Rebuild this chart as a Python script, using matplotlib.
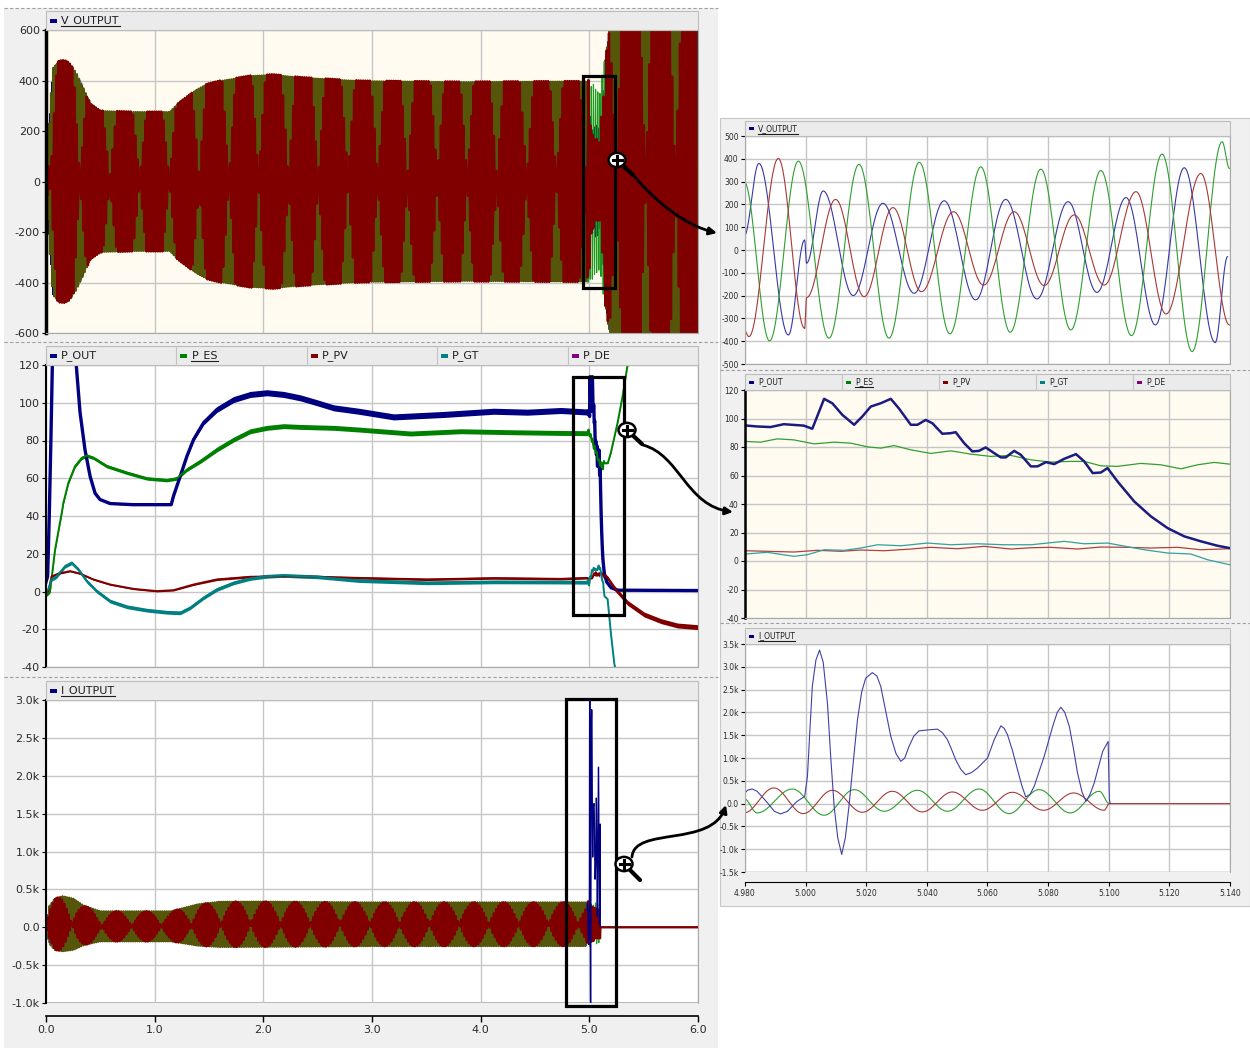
import numpy as np
import matplotlib
matplotlib.use("Agg")
import matplotlib.pyplot as plt
from matplotlib.patches import Rectangle, Circle, FancyArrowPatch
from matplotlib.path import Path
from matplotlib.lines import Line2D

# ---------------- full run, 0 - 6 s ----------------
# V_OUTPUT peak envelope
V_ENV_T = [0.0, 0.02, 0.04, 0.06, 0.12, 0.17, 0.21, 0.28, 0.35, 0.41, 0.50, 0.80, 1.14, 1.20,
           1.30, 1.39, 1.48, 1.60, 1.88, 2.09, 2.34, 2.65, 2.90, 3.80, 4.74, 4.98,
           5.14, 5.16, 5.20, 5.30, 6.0]
V_ENV_A = [0, 200, 320, 450, 479, 481, 472, 433, 367, 308, 281, 277, 277, 305,
           338, 367, 387, 400, 420, 425, 414, 406, 400, 396, 398, 398,
           470, 520, 650, 780, 800]

# I_OUTPUT peak envelope and offset
I_ENV_T = [0.0, 0.03, 0.08, 0.15, 0.25, 0.35, 0.50, 1.15, 1.25, 1.40, 1.60, 2.00, 3.00, 4.00, 4.98]
I_ENV_A = [0, 250, 340, 365, 340, 260, 200, 200, 230, 275, 300, 300, 290, 290, 290]
I_ENV_DC = [0, 30, 40, 46, 40, 25, 12, 12, 20, 30, 38, 40, 40, 40, 40]

# power traces before and after the 4.98 - 5.14 s window
P_OUT_T = [0.0, 0.015, 0.03, 0.045, 0.06, 0.10, 0.15, 0.22, 0.277, 0.313, 0.359, 0.406, 0.452,
           0.498, 0.59, 0.80, 1.152, 1.173, 1.235, 1.297, 1.358, 1.45, 1.573, 1.727, 1.88,
           2.034, 2.187, 2.34, 2.495, 2.648, 2.878, 3.20, 3.66, 4.12, 4.43, 4.737]
P_OUT_V = [5, 8, 40, 80, 125, 165, 180, 160, 121, 95, 75, 61, 52,
           48.7, 46.6, 46, 46, 50.5, 61, 71.7, 80.5, 89.4, 96.4, 101.7, 104.4,
           105.3, 104.4, 102.6, 100, 97.3, 95.5, 92.5, 93.8, 95.5, 95, 95.9]
P_OUT_POST_T = [5.16, 5.20, 5.26, 6.0]
P_OUT_POST_V = [5, 2, 0.7, 0.5]

P_ES_T = [0.0, 0.037, 0.083, 0.145, 0.16, 0.206, 0.267, 0.329, 0.375, 0.436, 0.559, 0.744,
          0.928, 1.112, 1.204, 1.297, 1.42, 1.573, 1.727, 1.88, 2.034, 2.187, 2.34, 2.65,
          2.88, 3.355, 3.816, 4.276, 4.737]
P_ES_V = [-2, 0, 22, 41.7, 47, 57.6, 66.4, 70.8, 72, 70.8, 66.4, 62.9,
          59.9, 59, 59.9, 64.6, 69, 75.2, 80.5, 84.9, 86.7, 87.6, 87.2, 86.7,
          85.8, 83.7, 84.9, 84.4, 84]
P_ES_POST_T = [5.17, 5.198, 5.26, 5.306, 5.352, 5.40]
P_ES_POST_V = [68, 73.5, 89.4, 103.5, 120, 138]

P_PV_T = [0.0, 0.02, 0.052, 0.114, 0.221, 0.313, 0.436, 0.59, 0.805, 1.02, 1.173, 1.358,
          1.573, 1.88, 2.187, 2.495, 2.88, 3.51, 4.12, 4.737]
P_PV_V = [0, 0, 8, 9.5, 10.8, 9.5, 6.4, 3.7, 1.4, 0.2, 0.7, 3.7,
          6.4, 7.8, 8.1, 7.8, 7.2, 6.4, 7.1, 6.7]
P_PV_POST_T = [5.168, 5.229, 5.352, 5.505, 5.66, 5.81, 6.0]
P_PV_POST_V = [7.2, 2, -6, -12.2, -15.7, -18, -18.9]

P_GT_T = [0.0, 0.02, 0.052, 0.098, 0.175, 0.236, 0.298, 0.375, 0.467, 0.59, 0.744, 0.928,
          1.112, 1.235, 1.327, 1.45, 1.573, 1.727, 1.88, 2.034, 2.187, 2.495, 2.88, 3.51,
          4.12, 4.737]
P_GT_V = [0, 1, 6.4, 8, 13.4, 15.2, 11.7, 5.5, 0.2, -5.1, -8.1, -9.9,
          -11, -11.3, -8.6, -3.3, 1.1, 4.6, 6.9, 8.1, 8.5, 7.8, 5.8, 4.6,
          5.1, 5]
P_GT_POST_T = [5.168, 5.198, 5.229, 5.25]
P_GT_POST_V = [-4, -21.9, -37.8, -45]

# ripple half-width of the power traces
RIP_T = [0.0, 1.15, 1.6, 5.0, 5.05, 5.2, 6.0]
P_OUT_RIP = [0.3, 0.3, 1.6, 1.6, 0.0, 0.0, 0.0]
P_ES_RIP = [0.9, 0.9, 1.3, 1.3, 0.3, 0.3, 0.3]
P_PV_RIP = [0.4, 0.4, 0.6, 0.6, 0.6, 1.3, 1.3]
P_GT_RIP = [1.0, 1.0, 1.0, 1.0, 0.3, 0.3, 0.3]

# ---------------- zoomed window, 4.98 - 5.14 s ----------------
# voltage phases, peaks and troughs
VA_T = [4.9797, 4.9846, 4.9943, 4.99967, 5.0003, 5.0058, 5.0157, 5.0255, 5.0358, 5.0457,
        5.0561, 5.0660, 5.0763, 5.0866, 5.0961, 5.1057, 5.1154, 5.1249, 5.1351, 5.1392]
VA_V = [60, 380, -373, 44, -58, 259, -200, 205, -190, 216,
        -219, 222, -215, 212, -186, 230, -329, 361, -406, -29]
VB_T = [4.9797, 4.9881, 4.9976, 5.0077, 5.0176, 5.0275, 5.0375, 5.0476, 5.0578, 5.0675,
        5.0776, 5.0875, 5.0974, 5.1075, 5.1176, 5.1275, 5.1374, 5.1398]
VB_V = [300, -399, 390, -387, 376, -387, 385, -368, 365, -361,
        355, -351, 349, -376, 421, -446, 475, 358]
VC_T = [4.9797, 4.9813, 4.9910, 4.99967, 5.0003, 5.0099, 5.0193, 5.0288, 5.0382, 5.0488,
        5.0587, 5.0688, 5.0787, 5.0886, 5.0985, 5.1090, 5.1189, 5.1304, 5.1398]
VC_V = [-351, -380, 402, -344, -209, 222, -205, 186, -183, 168,
        -154, 168, -156, 154, -154, 256, -281, 336, -329]

# power
RP_OUT_T = [4.9802, 4.9840, 4.9884, 4.9928, 4.9994, 5.0022, 5.0061, 5.0088, 5.0121, 5.0160,
            5.0187, 5.0215, 5.0248, 5.0281, 5.0308, 5.0347, 5.0369, 5.0396, 5.0418, 5.0451,
            5.0479, 5.0495, 5.0523, 5.0550, 5.0572, 5.0594, 5.0622, 5.0644, 5.0660, 5.0688,
            5.0710, 5.0743, 5.0765, 5.0793, 5.0820, 5.0853, 5.0892, 5.0919, 5.0947, 5.0974,
            5.0996, 5.1029, 5.1084, 5.1139, 5.1194, 5.1249, 5.1304, 5.1359, 5.1398]
RP_OUT_V = [95.1, 94.4, 94, 96, 95, 92.8, 113.8, 110.7, 102.6, 95.6,
            101.4, 108.4, 110.7, 113.8, 107, 95.6, 95.6, 99, 96.7, 89.3,
            89.7, 90.4, 82.7, 76.9, 77.3, 79.7, 75.7, 72.7, 72.7, 77.3,
            74.5, 66.4, 66.4, 69.4, 68, 71.7, 75, 69.9, 61.7, 62.1,
            65.2, 55.8, 41.8, 31.3, 23.1, 17.3, 13.8, 10.7, 9.1]
RP_ES_T = [4.9802, 4.9851, 4.9906, 4.9961, 5.0028, 5.0094, 5.0149, 5.0204, 5.0248, 5.0292,
           5.0347, 5.0413, 5.0479, 5.0545, 5.0611, 5.0677, 5.0743, 5.0809, 5.0875, 5.0919,
           5.0974, 5.1029, 5.1106, 5.1172, 5.1238, 5.1293, 5.1348, 5.1398]
RP_ES_V = [83.9, 83.4, 85.7, 85, 82.2, 83.4, 82.7, 80.1, 79.2, 81,
           78, 75.5, 77.3, 75, 73.4, 74.1, 71, 69.4, 69.9, 69.9,
           66.8, 66.4, 68.5, 67.5, 64.7, 67.5, 69.2, 68]
RP_PV_T = [4.9802, 4.9873, 4.9961, 5.0039, 5.0116, 5.0182, 5.0259, 5.0347, 5.0413, 5.0501,
           5.0589, 5.0677, 5.0743, 5.0809, 5.0897, 5.0974, 5.1062, 5.1139, 5.1227, 5.1304,
           5.1398]
RP_PV_V = [7.2, 6.8, 6.3, 7.5, 6.8, 7.7, 7.2, 8.4, 9.6, 8.6,
           10.3, 8.4, 9.3, 9.6, 8.4, 9.8, 9.6, 9.1, 9.6, 7.9, 8.6]
RP_GT_T = [4.9802, 4.9873, 4.9961, 5.0006, 5.0061, 5.0127, 5.0182, 5.0237, 5.0314, 5.0402,
           5.0479, 5.0567, 5.0655, 5.0743, 5.0853, 5.0919, 5.0996, 5.1073, 5.1117, 5.1194,
           5.1271, 5.1326, 5.1398]
RP_GT_V = [4.9, 6.1, 3.3, 4.4, 7.9, 7.5, 9.1, 11.4, 10.7, 12.6,
           11.4, 12.1, 11.4, 11.4, 13.8, 12.1, 12.6, 9.6, 7.9, 5.6,
           4.9, 0.9, -2.6]

# current phases
IA_T = [4.9797, 4.9810, 4.9824, 4.9840, 4.9870, 4.9897, 4.9917, 4.9940, 4.9970, 4.9997,
        5.0006, 5.0014, 5.0022, 5.0034, 5.0046, 5.0058, 5.0072, 5.0083, 5.0094, 5.0106,
        5.0119, 5.0131, 5.0143, 5.0157, 5.0171, 5.0185, 5.0198, 5.0220, 5.0235, 5.0248,
        5.0265, 5.0281, 5.0298, 5.0314, 5.0327, 5.0341, 5.0357, 5.0374, 5.0407, 5.0435,
        5.0452, 5.0468, 5.0482, 5.0495, 5.0512, 5.0528, 5.0547, 5.0567, 5.0600, 5.0622,
        5.0644, 5.0655, 5.0666, 5.0683, 5.0699, 5.0713, 5.0726, 5.0740, 5.0754, 5.0787,
        5.0815, 5.0830, 5.0842, 5.0855, 5.0870, 5.0885, 5.0897, 5.0912, 5.0925, 5.0938,
        5.0952, 5.0980, 5.0998, 5.1002, 5.1005]
IA_V = [219, 300, 320, 270, 50, -170, -226, -170, 40, 160,
        598, 1600, 2566, 3150, 3367, 3100, 2201, 1000, -58, -750,
        -1115, -750, -58, 900, 1837, 2450, 2748, 2872, 2800, 2566,
        2000, 1472, 1100, 926, 1000, 1254, 1480, 1596, 1618, 1633,
        1550, 1399, 1180, 962, 750, 634, 680, 780, 999, 1399,
        1706, 1650, 1509, 1150, 743, 400, 146, 200, 379, 1035,
        1691, 2000, 2114, 2000, 1691, 1150, 671, 250, 51, 200,
        452, 1144, 1363, 87, 0]
IB_T = [4.9797, 4.9840, 4.9956, 5.0061, 5.0160, 5.0259, 5.0369, 5.0468, 5.0572, 5.0671,
        5.0770, 5.0873, 5.0969, 5.1002]
IB_V = [109, -204, 320, -255, 306, -168, 292, -168, 320, -219,
        306, -204, 270, 0]
IC_T = [4.9797, 4.9895, 4.9992, 5.0088, 5.0187, 5.0286, 5.0385, 5.0484, 5.0583, 5.0682,
        5.0785, 5.0884, 5.0985, 5.1002, 5.14]
IC_V = [-204, 343, -219, 292, -190, 270, -182, 255, -146, 248,
        -146, 233, -146, 0, 0]

F_GRID = 50.0
BEAT = 0.274
V_RED_GAIN = 1.5   # how far the coarse red trace overdrives the envelope in V_OUTPUT

W, H = 1250, 1048
fig = plt.figure(figsize=(W / 100, H / 100), dpi=100, facecolor="white")


def fx(x):
    return x / W


def fy(y):
    return 1 - y / H


def px_axes(x0, y0, x1, y1):
    return fig.add_axes([fx(x0), fy(y1), (x1 - x0) / W, (y1 - y0) / H])


def halfcos(ts, vs, n=24):
    # smooth half-wave segments between successive peaks
    out_t, out_v = [], []
    for ta, va, tb, vb in zip(ts[:-1], vs[:-1], ts[1:], vs[1:]):
        s = np.linspace(0, 1, n, endpoint=False)
        out_t.append(ta + (tb - ta) * s)
        out_v.append(va + (vb - va) * (1 - np.cos(np.pi * s)) / 2)
    out_t.append([ts[-1]])
    out_v.append([vs[-1]])
    return np.concatenate(out_t), np.concatenate(out_v)


def sampled_times(t0, t1, t_pinch):
    # coarse sampling close to two points per cycle
    eps = 0.5 / (100 * BEAT - 1)
    dt = (0.5 + eps) / F_GRID
    n = np.arange(np.ceil((t0 - t_pinch) / dt), np.floor((t1 - t_pinch) / dt) + 1)
    return t_pinch + n * dt


def dense_times(t0, t1):
    return np.arange(t0, t1, 1 / (F_GRID * 24))


def style(ax, face, yticks, ylabels, fs, xt, lw_left=2.0):
    ax.set_facecolor(face)
    for s in ax.spines.values():
        s.set_color("#a8a8a8")
        s.set_linewidth(0.8)
    ax.spines["left"].set_color("black")
    ax.spines["left"].set_linewidth(lw_left)
    ax.set_yticks(yticks)
    ax.set_yticklabels(ylabels)
    ax.set_ylim(yticks[-1], yticks[0])
    ax.set_xticks(xt)
    ax.tick_params(axis="y", direction="out", length=3, width=0.8, labelsize=fs,
                   labelcolor="#2a2a2a", pad=1.5)
    ax.tick_params(axis="x", length=0, labelbottom=False)
    ax.grid(True, color="#c6c6c6", lw=1.0)
    ax.set_axisbelow(True)


# grey panel backgrounds
fig.add_artist(Rectangle((fx(4), fy(1048)), 714 / W, 1040 / H, transform=fig.transFigure,
                         facecolor="#f0f0f0", edgecolor="none", zorder=-10))
fig.add_artist(Rectangle((fx(720), fy(906)), 530 / W, 788 / H, transform=fig.transFigure,
                         facecolor="#f0f0f0", edgecolor="#c8c8c8", lw=0.8, zorder=-10))
for yy, x0, x1 in [(8, 4, 718), (342, 4, 718), (677, 4, 718), (370, 720, 1250), (623, 720, 1250)]:
    fig.add_artist(Line2D([fx(x0), fx(x1)], [fy(yy), fy(yy)], transform=fig.transFigure,
                          color="#a0a0a0", lw=0.8, ls=(0, (3, 2))))

# ---------------- left column ----------------
XT_LEFT = np.arange(0, 6.01, 1.0)

axV = px_axes(46, 30, 698, 333)
style(axV, "#fffbf0", [600, 400, 200, 0, -200, -400, -600],
      ["600", "400", "200", "0", "-200", "-400", "-600"], 8, XT_LEFT, 2.5)
axV.set_xlim(0, 6)

axP = px_axes(46, 365, 698, 667)
style(axP, "white", [120, 100, 80, 60, 40, 20, 0, -20, -40],
      ["120", "100", "80", "60", "40", "20", "0", "-20", "-40"], 8, XT_LEFT, 1.5)
axP.set_xlim(0, 6)

axI = px_axes(46, 700, 698, 1003)
style(axI, "white", [3000, 2500, 2000, 1500, 1000, 500, 0, -500, -1000],
      ["3.0k", "2.5k", "2.0k", "1.5k", "1.0k", "0.5k", "0.0", "-0.5k", "-1.0k"], 8, XT_LEFT, 1.5)
axI.set_xlim(0, 6)
axI.spines["bottom"].set_position(("outward", 9))
axI.spines["bottom"].set_color("black")
axI.spines["bottom"].set_linewidth(1.2)
axI.set_xticklabels([f"{v:.1f}" for v in XT_LEFT])
axI.tick_params(axis="x", length=4, width=1, direction="out", labelbottom=True,
                labelsize=8, labelcolor="#2a2a2a", pad=3)
axI.axhline(-1000, color="#a8a8a8", lw=1.2, zorder=0)

NAVY, OLIVE, MAROON = "#000080", "#56560a", "#800000"

# V_OUTPUT: blue and middle phase drawn dense, red phase coarse on top
tp_v = 0.313
for seg in [(0.0, 4.98), (5.14, 6.0)]:
    td = dense_times(*seg)
    ad = np.interp(td, V_ENV_T, V_ENV_A)
    axV.plot(td, ad * np.sin(2 * np.pi * F_GRID * (td - tp_v) + 2 * np.pi / 3), color=NAVY, lw=0.6)
    axV.plot(td, ad * np.sin(2 * np.pi * F_GRID * (td - tp_v) - 2 * np.pi / 3), color=OLIVE, lw=1.4)
ta, va = halfcos(VA_T, VA_V)
tb, vb = halfcos(VB_T, VB_V)
tc, vc = halfcos(VC_T, VC_V)
axV.plot(ta, va, color=NAVY, lw=0.7)
axV.plot(tb, vb, color="#1a9a1a", lw=0.8)


def coarse_v(ts):
    a = np.interp(ts, V_ENV_T, V_ENV_A)
    return np.clip(V_RED_GAIN * a * np.sin(2 * np.pi * F_GRID * (ts - tp_v)), -a, a)


ts1 = sampled_times(0.0, 4.98, tp_v)
ts3 = sampled_times(5.14, 6.0, tp_v)
red_t = np.concatenate([ts1, tc, ts3])
red_v = np.concatenate([coarse_v(ts1), vc, coarse_v(ts3)])
axV.plot(red_t, red_v, color=MAROON, lw=1.7)

# I_OUTPUT
tp_i = 0.24
td = dense_times(0.0, 4.98)
ad = np.interp(td, I_ENV_T, I_ENV_A)
dc = np.interp(td, I_ENV_T, I_ENV_DC)
axI.plot(td, dc + ad * np.sin(2 * np.pi * F_GRID * (td - tp_i) + 2 * np.pi / 3), color=NAVY, lw=0.6)
axI.plot(td, dc + ad * np.sin(2 * np.pi * F_GRID * (td - tp_i) - 2 * np.pi / 3), color=OLIVE, lw=1.4)
tib, vib = halfcos(IB_T, IB_V)
tic, vic = halfcos(IC_T, IC_V)
axI.plot(tib, vib, color="#1a9a1a", lw=0.8)
ts1 = sampled_times(0.0, 4.98, tp_i)
red_t = np.concatenate([ts1, tic, [6.0]])
red_v = np.concatenate([np.interp(ts1, I_ENV_T, I_ENV_DC)
                        + np.interp(ts1, I_ENV_T, I_ENV_A) * np.sin(2 * np.pi * F_GRID * (ts1 - tp_i)),
                        vic, [0.0]])
axI.plot(red_t, red_v, color=MAROON, lw=1.7)
axI.plot(IA_T, IA_V, color=NAVY, lw=0.9)

# power traces
P_SERIES = [
    ("P_OUT", NAVY, P_OUT_T, P_OUT_V, RP_OUT_T, RP_OUT_V, P_OUT_POST_T, P_OUT_POST_V, P_OUT_RIP, 2.4),
    ("P_ES", "#008000", P_ES_T, P_ES_V, RP_ES_T, RP_ES_V, P_ES_POST_T, P_ES_POST_V, P_ES_RIP, 1.4),
    ("P_PV", MAROON, P_PV_T, P_PV_V, RP_PV_T, RP_PV_V, P_PV_POST_T, P_PV_POST_V, P_PV_RIP, 1.4),
    ("P_GT", "#008080", P_GT_T, P_GT_V, RP_GT_T, RP_GT_V, P_GT_POST_T, P_GT_POST_V, P_GT_RIP, 1.4),
]
for name, col, t0, v0, t1, v1, t2, v2, rip, lw in P_SERIES:
    t = np.concatenate([t0, t1, t2])
    v = np.concatenate([v0, v1, v2])
    r = np.interp(t, RIP_T, rip)
    axP.fill_between(t, v - r, v + r, color=col, lw=0)
    axP.plot(t, v, color=col, lw=lw)
axP.set_xlim(0, 6)
axP.set_ylim(-40, 120)

# ---------------- right column ----------------
XT_RIGHT = np.round(np.arange(4.98, 5.1401, 0.02), 3)

axRV = px_axes(745, 136, 1230, 364)
style(axRV, "white", list(range(500, -501, -100)), [str(v) for v in range(500, -501, -100)],
      5.5, XT_RIGHT, 0.8)
axRV.spines["left"].set_color("#a8a8a8")
axRV.set_xlim(4.98, 5.14)
axRV.plot(ta, va, color="#3838a8", lw=0.8)
axRV.plot(tb, vb, color="#2f9f2f", lw=0.8)
axRV.plot(tc, vc, color="#a83838", lw=0.8)

axRP = px_axes(745, 390, 1230, 618)
style(axRP, "#fffbf0", [120, 100, 80, 60, 40, 20, 0, -20, -40],
      ["120", "100", "80", "60", "40", "20", "0", "-20", "-40"], 5.5, XT_RIGHT, 1.8)
axRP.set_xlim(4.98, 5.14)
axRP.plot(RP_PV_T, RP_PV_V, color="#b04040", lw=0.9)
axRP.plot(RP_GT_T, RP_GT_V, color="#30a0a0", lw=0.9)
axRP.plot(RP_ES_T, RP_ES_V, color="#30a030", lw=0.9)
axRP.plot(RP_OUT_T, RP_OUT_V, color="#1c1c80", lw=1.8)

axRI = px_axes(745, 644, 1230, 872)
style(axRI, "white", list(range(3500, -1501, -500)),
      ["3.5k", "3.0k", "2.5k", "2.0k", "1.5k", "1.0k", "0.5k", "0.0", "-0.5k", "-1.0k", "-1.5k"],
      5.5, XT_RIGHT, 0.8)
axRI.spines["left"].set_color("#a8a8a8")
axRI.set_xlim(4.98, 5.14)
axRI.spines["bottom"].set_position(("outward", 7))
axRI.spines["bottom"].set_color("black")
axRI.set_xticklabels([f"{v:.3f}" for v in XT_RIGHT])
axRI.tick_params(axis="x", length=3, width=0.8, direction="out", labelbottom=True,
                 labelsize=5.5, labelcolor="#2a2a2a", pad=2)
axRI.axhline(-1500, color="#a8a8a8", lw=1.0, zorder=0)
axRI.plot(tib, vib, color="#2f9f2f", lw=0.8)
axRI.plot(tic, vic, color="#a83838", lw=0.8)
axRI.plot(IA_T, IA_V, color="#4040a8", lw=0.8)

# ---------------- legend bars ----------------
underlined = []


def header(x0, x1, y0, y1, cells, fs, sq):
    fig.add_artist(Rectangle((fx(x0), fy(y1)), (x1 - x0) / W, (y1 - y0) / H,
                             transform=fig.transFigure, facecolor="#ebebeb",
                             edgecolor="#bcbcbc", lw=0.8))
    cw = (x1 - x0) / len(cells)
    for i, (label, col, ul) in enumerate(cells):
        cx = x0 + i * cw
        if i > 0:
            fig.add_artist(Line2D([fx(cx), fx(cx)], [fy(y0), fy(y1)], transform=fig.transFigure,
                                  color="#c4c4c4", lw=0.8))
        ym = (y0 + y1) / 2
        fig.add_artist(Rectangle((fx(cx + 4), fy(ym + sq[1] / 2)), sq[0] / W, sq[1] / H,
                                 transform=fig.transFigure, facecolor=col, edgecolor="none"))
        t = fig.text(fx(cx + sq[0] + 8), fy(ym), label, fontsize=fs, ha="left", va="center",
                     color="#1e1e1e")
        if ul:
            underlined.append(t)


P_CELLS = [("P_OUT", NAVY, False), ("P_ES", "#008000", True), ("P_PV", MAROON, False),
           ("P_GT", "#008080", False), ("P_DE", "#800080", False)]
header(46, 698, 11, 30, [("V_OUTPUT", NAVY, True)], 8, (7, 4))
header(46, 698, 346, 365, P_CELLS, 8, (7, 4))
header(46, 698, 681, 700, [("I_OUTPUT", NAVY, True)], 8, (7, 4))
header(745, 1230, 121, 136, [("V_OUTPUT", NAVY, True)], 5.5, (5, 3))
header(745, 1230, 374, 390, P_CELLS, 5.5, (5, 3))
header(745, 1230, 628, 644, [("I_OUTPUT", NAVY, True)], 5.5, (5, 3))

fig.canvas.draw()
for t in underlined:
    bb = t.get_window_extent()
    fig.add_artist(Line2D([bb.x0 / W, bb.x1 / W], [(bb.y0 - 0.5) / H] * 2,
                          transform=fig.transFigure, color="#1e1e1e", lw=0.8))

# ---------------- zoom boxes, magnifiers and arrows ----------------
for x0, y0, x1, y1 in [(583, 76, 615, 288), (573, 377, 624, 615), (566, 699, 616, 1006)]:
    fig.add_artist(Rectangle((fx(x0), fy(y1)), (x1 - x0) / W, (y1 - y0) / H,
                             transform=fig.transFigure, facecolor="none",
                             edgecolor="black", lw=2.3, zorder=20))


def magnifier(cx, cy, hx, hy):
    fig.add_artist(Line2D([fx(cx), fx(hx)], [fy(cy), fy(hy)], transform=fig.transFigure,
                          color="black", lw=3.0, solid_capstyle="round", zorder=21))
    fig.add_artist(Circle((fx(cx), fy(cy)), 8.5 / W, transform=fig.transFigure,
                          facecolor="white", edgecolor="black", lw=1.8, zorder=22))
    fig.add_artist(Line2D([fx(cx - 4.5), fx(cx + 4.5)], [fy(cy), fy(cy)], transform=fig.transFigure,
                          color="black", lw=2.2, zorder=23))
    fig.add_artist(Line2D([fx(cx), fx(cx)], [fy(cy - 4.5), fy(cy + 4.5)], transform=fig.transFigure,
                          color="black", lw=2.2, zorder=23))


magnifier(617, 160, 633, 175)
magnifier(627, 430, 642, 444)
magnifier(624, 864, 640, 880)

for pts in [[(634, 176), (656, 202), (686, 226), (717, 233)],
            [(643, 445), (680, 455), (686, 506), (733, 512)],
            [(632, 857), (634, 826), (712, 848), (726, 805)]]:
    path = Path([(fx(x), fy(y)) for x, y in pts],
                [Path.MOVETO, Path.CURVE4, Path.CURVE4, Path.CURVE4])
    fig.add_artist(FancyArrowPatch(path=path, arrowstyle="-|>", mutation_scale=11,
                                   color="black", lw=2.0, transform=fig.transFigure, zorder=21))

fig.savefig("out.png", dpi=100, facecolor="white")
